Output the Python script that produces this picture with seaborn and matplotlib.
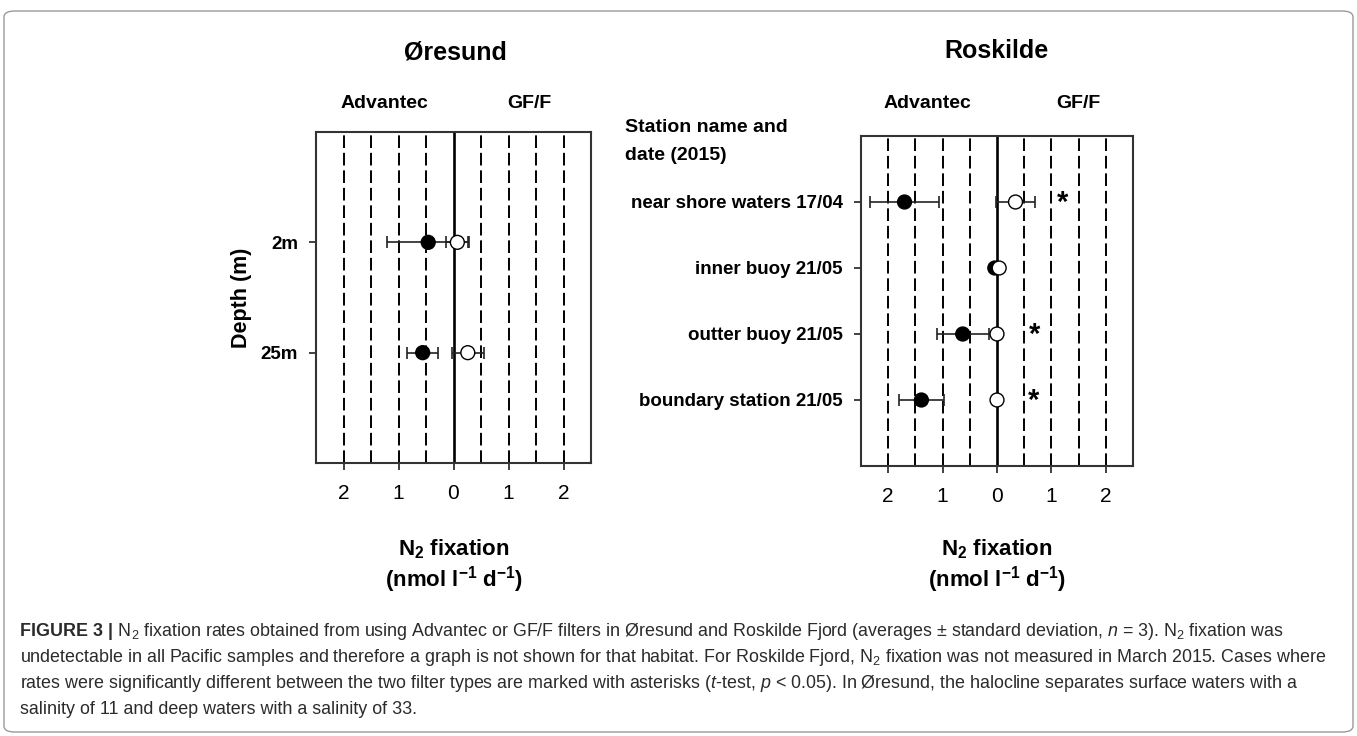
import numpy as np
import pandas as pd
import matplotlib
matplotlib.use("Agg")
import matplotlib.pyplot as plt
import matplotlib.transforms as mtransforms
import seaborn as sns
from matplotlib.patches import FancyBboxPatch

# ── данные: Øresund ──
depths = ["2m", "25m"]
ore_adv = [0.46, 0.56]
ore_adv_sd = [0.75, 0.28]
ore_gff = [0.07, 0.26]
ore_gff_sd = [0.20, 0.29]

# ── данные: Roskilde ──
stations = ["near shore waters 17/04", "inner buoy 21/05",
            "outter buoy 21/05", "boundary station 21/05"]
ros_adv = [1.70, 0.04, 0.63, 1.39]
ros_adv_sd = [0.63, 0.0, 0.48, 0.41]
ros_gff = [0.34, 0.04, 0.0, 0.0]
ros_gff_sd = [0.36, 0.0, 0.0, 0.0]
star_x = [1.21, None, 0.69, 0.68]   # положение звёздочек (значимые различия)

ticks = [-2, -1, 0, 1, 2]
tick_labels = ["2", "1", "0", "1", "2"]
grid_x = [-2, -1.5, -1, -0.5, 0.5, 1, 1.5, 2]

sns.set_style("white")
plt.rcParams["font.family"] = ["Liberation Sans", "DejaVu Sans"]
plt.rcParams["text.color"] = "black"
plt.rcParams["axes.labelcolor"] = "black"
plt.rcParams["xtick.color"] = "black"
plt.rcParams["ytick.color"] = "black"
plt.rcParams["mathtext.fontset"] = "custom"
plt.rcParams["mathtext.rm"] = "Liberation Sans"
plt.rcParams["mathtext.it"] = "Liberation Sans:italic"
plt.rcParams["mathtext.bf"] = "Liberation Sans:bold"


def make_frame(labels, adv, adv_sd, gff, gff_sd):
    rows = np.arange(1, len(labels) + 1)
    df = pd.DataFrame({
        "row": np.concatenate([rows, rows]),
        "pos": np.concatenate([-np.array(adv), np.array(gff)]),
        "sd": np.concatenate([adv_sd, gff_sd]),
        "filter": ["Advantec"] * len(labels) + ["GF/F"] * len(labels),
    })
    return df


def draw_panel(ax, df, labels, lab_y):
    for gx in grid_x:
        ax.axvline(gx, color="black", lw=1.4, ls=(0, (6.5, 2.5)), zorder=1)
    ax.axvline(0, color="black", lw=1.9, zorder=1)

    err = df[df["sd"] > 0]
    ax.errorbar(err["pos"], err["row"], xerr=err["sd"], fmt="none",
                ecolor="#222222", elinewidth=1.2, capsize=4.5, capthick=1.2, zorder=2)
    sns.scatterplot(data=df, x="pos", y="row", hue="filter",
                    palette={"Advantec": "black", "GF/F": "white"},
                    edgecolor="black", linewidth=1.0, s=100, legend=False,
                    ax=ax, zorder=3)

    n = len(labels)
    ax.set_xlim(-2.5, 2.5)
    ax.set_ylim(n + 1, 0)
    ax.set_xticks(ticks)
    ax.set_xticklabels(tick_labels, fontsize=15)
    ax.set_yticks(np.arange(1, n + 1))
    ax.set_yticklabels(labels, fontsize=13.5, fontweight="bold")
    ax.tick_params(axis="both", direction="out", length=5, width=1.3,
                   color="#333333", bottom=True, left=True)
    ax.tick_params(axis="x", pad=10)
    ax.tick_params(axis="y", pad=8)
    for sp in ax.spines.values():
        sp.set_visible(True)
        sp.set_color("#333333")
        sp.set_linewidth(1.5)
    ax.set_xlabel("")
    ax.set_ylabel("")

    tr = mtransforms.blended_transform_factory(ax.transData, ax.transAxes)
    ax.text(lab_y[0], lab_y[2], "Advantec", transform=tr, ha="center",
            va="center", fontsize=14, fontweight="bold")
    ax.text(lab_y[1], lab_y[2], "GF/F", transform=tr, ha="center",
            va="center", fontsize=14, fontweight="bold")


fig = plt.figure(figsize=(13.57, 7.36), dpi=100)
W, H = 1357, 736

ax1 = fig.add_axes([316 / W, 1 - 463 / H, 275 / W, 331 / H])
ax2 = fig.add_axes([861 / W, 1 - 466 / H, 272 / W, 330 / H])

df_ore = make_frame(depths, ore_adv, ore_adv_sd, ore_gff, ore_gff_sd)
df_ros = make_frame(stations, ros_adv, ros_adv_sd, ros_gff, ros_gff_sd)

draw_panel(ax1, df_ore, depths, (-1.25, 1.38, 1.085))
draw_panel(ax2, df_ros, stations, (-1.28, 1.5, 1.097))

ax1.set_ylabel("Depth (m)", fontsize=15.5, fontweight="bold", labelpad=6)

for i, sx in enumerate(star_x):
    if sx is not None:
        ax2.text(sx, i + 1.02, "*", ha="center", va="center",
                 fontsize=21, fontweight="bold")

# заголовки панелей
fig.text(455 / W, 1 - 53 / H, "Øresund", ha="center", va="center",
         fontsize=18, fontweight="bold")
fig.text(997 / W, 1 - 51 / H, "Roskilde", ha="center", va="center",
         fontsize=18, fontweight="bold")
fig.text(625 / W, 1 - 127 / H, "Station name and", ha="left", va="center",
         fontsize=14, fontweight="bold")
fig.text(625 / W, 1 - 156 / H, "date (2015)", ha="left", va="center",
         fontsize=14, fontweight="bold")

# подписи оси X
for cx in (454, 997):
    fig.text(cx / W, 1 - 549 / H, r"N$_\mathbf{2}$ fixation", ha="center",
             va="center", fontsize=16, fontweight="bold")
    fig.text(cx / W, 1 - 580 / H, r"(nmol l$^\mathbf{-1}$ d$^\mathbf{-1}$)",
             ha="center", va="center", fontsize=16, fontweight="bold")

# рамка
fig.patches.append(FancyBboxPatch((4 / W, 4 / H), 1349 / W, (H - 15) / H,
                                  boxstyle="round,pad=0,rounding_size=0.008",
                                  transform=fig.transFigure, fill=False,
                                  edgecolor="#9a9a9a", lw=1.0))

# подпись к рисунку
cap_lines = [
    r" N$_2$ fixation rates obtained from using Advantec or GF/F filters in Øresund and Roskilde Fjord (averages ± standard deviation, $n$ = 3). N$_2$ fixation was",
    r"undetectable in all Pacific samples and therefore a graph is not shown for that habitat. For Roskilde Fjord, N$_2$ fixation was not measured in March 2015. Cases where",
    r"rates were significantly different between the two filter types are marked with asterisks ($t$-test, $p$ < 0.05). In Øresund, the halocline separates surface waters with a",
    "salinity of 11 and deep waters with a salinity of 33.",
]
cap_y = [632, 658, 684, 709]
cap_color = "#2b2b2b"

# подбираем кегль так, чтобы вторая строка заняла ширину как в оригинале
probe = fig.text(0, 0, cap_lines[1], fontsize=14)
fig.canvas.draw()
cap_size = 14 * 1315 / probe.get_window_extent().width
probe.remove()

head = fig.text(20 / W, 1 - cap_y[0] / H, "FIGURE 3 |", ha="left", va="center",
                fontsize=cap_size, fontweight="bold", color=cap_color)
fig.canvas.draw()
bb = head.get_window_extent()
fig.text(bb.x1 / W, 1 - cap_y[0] / H, cap_lines[0], ha="left", va="center",
         fontsize=cap_size, color=cap_color)
for line, yy in zip(cap_lines[1:], cap_y[1:]):
    fig.text(20 / W, 1 - yy / H, line, ha="left", va="center",
             fontsize=cap_size, color=cap_color)

fig.savefig("out.png", dpi=100)
